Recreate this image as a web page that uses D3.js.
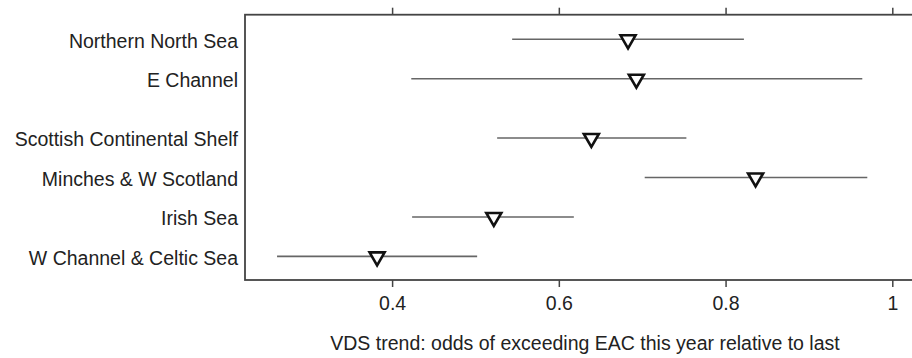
<!DOCTYPE html>
<html>
<head>
<meta charset="utf-8">
<script src="https://cdn.jsdelivr.net/npm/d3@7"></script>
<style>
  html, body { margin: 0; padding: 0; background: #fff; }
  svg { display: block; }
  text { font-family: "Liberation Sans", Arial, sans-serif; fill: #222; }
</style>
</head>
<body>
<svg id="chart" width="912" height="358"></svg>
<script>
const regions = ["Northern North Sea", "E Channel", "Scottish Continental Shelf",
                 "Minches & W Scotland", "Irish Sea", "W Channel & Celtic Sea"];
const groups = [0, 0, 1, 1, 1, 1];
const estimate = [0.683, 0.693, 0.639, 0.836, 0.522, 0.382];
const lower    = [0.544, 0.423, 0.526, 0.703, 0.424, 0.262];
const upper    = [0.822, 0.964, 0.753, 0.970, 0.618, 0.502];
const xTicks = [0.4, 0.6, 0.8, 1];
const xTickLabels = ["0.4", "0.6", "0.8", "1"];
const xTitle = "VDS trend: odds of exceeding EAC this year relative to last";

(function () {
const groupGap = 0.5;
const slots = regions.map((d, i) => i + groups[i] * groupGap);

const svg = d3.select("#chart");
const pLeft = 245, pTop = 14.7, pBottom = 280, pRight = 916;

const x = d3.scaleLinear().domain([0.4, 1]).range([392.1, 892.3]);
const y = d3.scaleLinear().domain([0, d3.max(slots)]).range([39.3, 256.4]);

// frame
svg.append("rect")
  .attr("x", pLeft).attr("y", pTop)
  .attr("width", pRight - pLeft).attr("height", pBottom - pTop)
  .attr("fill", "none").attr("stroke", "#444").attr("stroke-width", 1.8);

// bottom axis
const xAxisB = d3.axisBottom(x).tickValues(xTicks)
  .tickFormat((d, i) => xTickLabels[i]).tickSize(7).tickPadding(9);
const gB = svg.append("g").attr("transform", `translate(0,${pBottom})`).call(xAxisB);
gB.select(".domain").remove();
gB.selectAll(".tick line").attr("stroke", "#444").attr("stroke-width", 1.5);
gB.selectAll(".tick text").attr("font-size", 19.5).attr("fill", "#222")
  .attr("font-family", "Liberation Sans, Arial, sans-serif");

// top axis (ticks only)
const xAxisT = d3.axisTop(x).tickValues(xTicks).tickFormat("").tickSize(7);
const gT = svg.append("g").attr("transform", `translate(0,${pTop})`).call(xAxisT);
gT.select(".domain").remove();
gT.selectAll(".tick line").attr("stroke", "#444").attr("stroke-width", 1.5);

// category labels
svg.append("g").selectAll("text").data(regions).join("text")
  .attr("x", 238)
  .attr("y", (d, i) => y(slots[i]) + 1.5)
  .attr("text-anchor", "end")
  .attr("dominant-baseline", "central")
  .attr("font-size", 19.5)
  .text(d => d);

// whiskers
svg.append("g").selectAll("line").data(regions).join("line")
  .attr("x1", (d, i) => x(lower[i]))
  .attr("x2", (d, i) => x(upper[i]))
  .attr("y1", (d, i) => y(slots[i]))
  .attr("y2", (d, i) => y(slots[i]))
  .attr("stroke", "#666").attr("stroke-width", 1.6);

// markers: downward triangles
svg.append("g").selectAll("path").data(regions).join("path")
  .attr("transform", (d, i) => `translate(${x(estimate[i])},${y(slots[i])})`)
  .attr("d", "M-7.5,-4 L7.5,-4 L0,9 Z")
  .attr("fill", "#fff").attr("stroke", "#111").attr("stroke-width", 2.6)
  .attr("stroke-linejoin", "miter");

// x title
svg.append("text")
  .attr("x", 585).attr("y", 350)
  .attr("text-anchor", "middle")
  .attr("font-size", 19.5)
  .text(xTitle);
})();
</script>
</body>
</html>
